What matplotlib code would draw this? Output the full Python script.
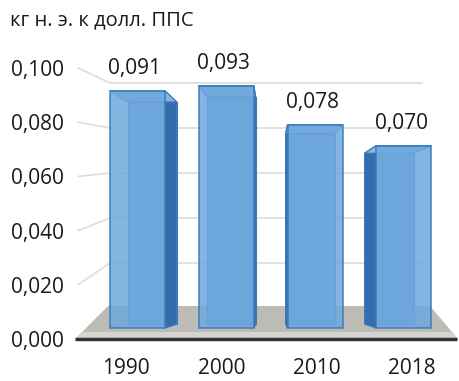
import matplotlib
matplotlib.use("Agg")
import matplotlib.pyplot as plt
from matplotlib.patches import Polygon

plt.rcParams['font.family'] = ['Open Sans', 'DejaVu Sans']

# ---- data ----
years = ['1990', '2000', '2010', '2018']
values = [0.091, 0.093, 0.078, 0.070]
value_labels = ['0,091', '0,093', '0,078', '0,070']
yticks = [0.000, 0.020, 0.040, 0.060, 0.080, 0.100]
ytick_labels = ['0,000', '0,020', '0,040', '0,060', '0,080', '0,100']
unit_title = 'кг н. э. к долл. ППС'

W, H = 460, 381
fig = plt.figure(figsize=(W / 100, H / 100), dpi=100)

# ---- axes carrying labels, grid and floor (front scale) ----
axl = fig.add_axes([72 / W, (H - 352) / H, (W - 72) / W, 352 / H])
axl.set_xlim(-0.567, 3.505)
axl.set_ylim(-0.0048, 0.1251)
for s in axl.spines.values():
    s.set_visible(False)
axl.set_yticks(yticks)
axl.set_yticklabels(ytick_labels, fontsize=15, color='#1a1a1a')
axl.set_xticks(range(len(years)))
axl.set_xticklabels(years, fontsize=15, color='#1a1a1a')
axl.tick_params(axis='both', length=0)
axl.tick_params(axis='y', pad=6)
axl.tick_params(axis='x', pad=4)
axl.patch.set_visible(False)

# back-wall gridlines with perspective bend on the left
def back_v(v):
    return 0.01144 + 0.8303 * v

for v in yticks[1:]:
    axl.plot([-0.504, -0.168, 3.106], [v, back_v(v), back_v(v)],
             color='#dedede', lw=1.3, zorder=1, solid_capstyle='round')

# floor
floor = Polygon([(-0.535, 0.0), (3.484, 0.0), (3.19, 0.01218), (-0.189, 0.01218)],
                closed=True, facecolor='#bdbbb5', edgecolor='none', zorder=2)
axl.add_patch(floor)
band = Polygon([(-0.535, 0.0), (3.484, 0.0), (3.42, 0.0026), (-0.465, 0.0026)],
               closed=True, facecolor='#d6d4ce', edgecolor='none', zorder=2.5)
axl.add_patch(band)
axl.plot([-0.535, 3.47], [0.0, 0.0], color='#333333', lw=2.5, zorder=3,
         solid_capstyle='butt')

# ---- bar axes ----
ax = fig.add_axes([0, 0, 1, 1])
ax.set_xlim(-1.548, 3.632)
ax.set_ylim(-0.02035, 0.1259)
ax.axis('off')
ax.patch.set_visible(False)

w = 0.62
vp = 1.5
kx = 0.89

def bx(x):
    return vp + (x - vp) * kx

def by(y):
    return 0.0015 + 0.937 * y

front_col = '#6fa8dc'
top_col = '#86b7e4'
side_col = '#346dac'
back_col = '#64a0d8'
edge_col = '#3a78ba'

for i, v in enumerate(values):
    x0, x1 = i - w / 2, i + w / 2
    # back face
    ax.add_patch(Polygon([(bx(x0), by(0)), (bx(x1), by(0)), (bx(x1), by(v)), (bx(x0), by(v))],
                         closed=True, facecolor=back_col, edgecolor=edge_col, lw=0.8, zorder=3))
    # side face
    if i < vp:
        side = [(x1, 0), (x1, v), (bx(x1), by(v)), (bx(x1), by(0))]
    else:
        side = [(x0, 0), (x0, v), (bx(x0), by(v)), (bx(x0), by(0))]
    ax.add_patch(Polygon(side, closed=True, facecolor=side_col, edgecolor=edge_col,
                         lw=1, zorder=4))
    # top face
    ax.add_patch(Polygon([(x0, v), (x1, v), (bx(x1), by(v)), (bx(x0), by(v))],
                         closed=True, facecolor=top_col, edgecolor=edge_col, lw=0.8, zorder=4))
    # front face (glassy)
    ax.bar(i, v, width=w, bottom=0, color=front_col, alpha=0.85,
           edgecolor=edge_col, linewidth=1.2, zorder=5)
    ax.annotate(value_labels[i], xy=(i, v), xytext=(-2, 16), textcoords='offset points',
                ha='center', va='center', fontsize=15, color='#1a1a1a', zorder=6)

fig.text(10 / W, 1 - 20 / H, unit_title, ha='left', va='center', fontsize=14.5,
         color='#1a1a1a')

fig.savefig('out.png', dpi=100)
